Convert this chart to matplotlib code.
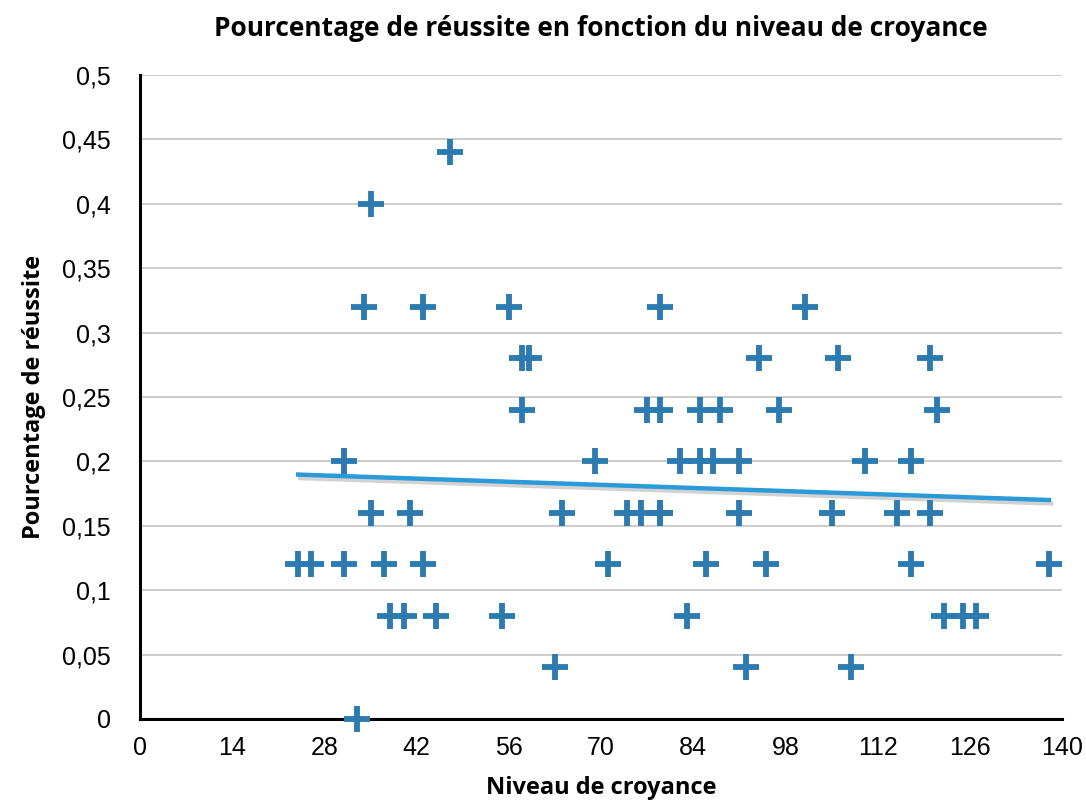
import numpy as np
import matplotlib
matplotlib.use("Agg")
import matplotlib.pyplot as plt
import matplotlib.patheffects as pe
from matplotlib.ticker import FuncFormatter

# points grouped by success rate row
x_vals = [47,
          35,
          34, 43, 56, 79, 101,
          58, 59, 94, 106, 120,
          58, 77, 79, 85, 88, 97, 121,
          31, 69, 82, 85, 87, 91, 110, 117,
          35, 41, 64, 74, 76, 79, 79, 91, 105, 115, 120,
          24, 26, 31, 37, 43, 71, 86, 95, 117, 138,
          38, 40, 45, 55, 83, 122, 125, 127,
          63, 92, 108,
          33]
y_vals = ([0.44] + [0.40] + [0.32] * 5 + [0.28] * 5 + [0.24] * 7 + [0.20] * 8
          + [0.16] * 11 + [0.12] * 10 + [0.08] * 8 + [0.04] * 3 + [0.0])

x_ticks = [0, 14, 28, 42, 56, 70, 84, 98, 112, 126, 140]
y_ticks = [0, 0.05, 0.1, 0.15, 0.2, 0.25, 0.3, 0.35, 0.4, 0.45, 0.5]

title = "Pourcentage de réussite en fonction du niveau de croyance"
xlabel = "Niveau de croyance"
ylabel = "Pourcentage de réussite"

tick_font = ["Liberation Sans", "DejaVu Sans"]
label_font = ["Open Sans", "DejaVu Sans"]

fig = plt.figure(figsize=(10.86, 8.02), dpi=100)
ax = fig.add_axes([0.129, 0.1035, 0.849, 0.803])

ax.scatter(x_vals, y_vals, marker="+", s=340, linewidths=4.2, color="#2b7bb0",
           zorder=3, clip_on=False)

# linear trend line over the data range
x = np.array(x_vals, dtype=float)
y = np.array(y_vals, dtype=float)
a, b = np.polyfit(x, y, 1)
xt = np.array([x.min(), x.max()])
ax.plot(xt, a * xt + b, color="#2a9ad8", lw=3.2, zorder=4,
        path_effects=[pe.SimpleLineShadow(offset=(1.5, -2.5), shadow_color="gray", alpha=0.35),
                      pe.Normal()])

ax.set_xlim(0, 140)
ax.set_ylim(0, 0.5)
ax.set_xticks(x_ticks)
ax.set_yticks(y_ticks)
ax.yaxis.set_major_formatter(FuncFormatter(lambda v, p: ("%g" % v).replace(".", ",")))
ax.grid(axis="y", color="#c4c4c4", lw=1.2)
ax.set_axisbelow(True)
ax.tick_params(length=0, labelsize=18)
ax.tick_params(axis="y", pad=21)
ax.tick_params(axis="x", pad=12)
for lab in ax.get_xticklabels() + ax.get_yticklabels():
    lab.set_family(tick_font)

for s in ["top", "right"]:
    ax.spines[s].set_visible(False)
ax.spines["left"].set_linewidth(2.2)
ax.spines["bottom"].set_linewidth(2.2)

ax.set_title(title, family=label_font, fontweight="bold", fontsize=19, pad=28)
ax.set_xlabel(xlabel, family=label_font, fontweight="bold", fontsize=17, labelpad=12)
ax.set_ylabel(ylabel, family=label_font, fontweight="bold", fontsize=17, labelpad=12)

fig.savefig("out.png", dpi=100)
